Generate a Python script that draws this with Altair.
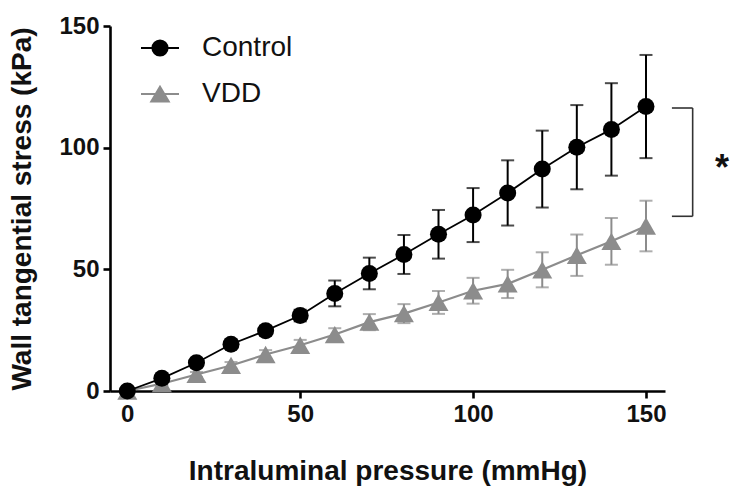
import altair as alt
import pandas as pd

pressure = [0, 10, 20, 30, 40, 50, 60, 70, 80, 90, 100, 110, 120, 130, 140, 150]
control_mean = [0.0, 5.2, 11.6, 19.2, 24.8, 31.0, 40.1, 48.3, 56.1, 64.4, 72.3, 81.4, 91.2, 100.2, 107.5, 116.9]
control_sd = [0.3, 0.8, 1.2, 1.6, 2.0, 2.4, 5.3, 6.5, 8.0, 10.0, 11.1, 13.4, 15.8, 17.3, 19.0, 21.2]
vdd_mean = [0.0, 3.0, 6.8, 10.5, 15.0, 18.8, 23.2, 28.3, 31.8, 36.4, 41.2, 44.0, 49.8, 55.8, 61.5, 67.8]
vdd_sd = [0.3, 0.6, 1.0, 1.4, 1.8, 2.2, 2.6, 3.3, 3.9, 4.7, 5.3, 5.8, 7.2, 8.5, 9.6, 10.4]
groups = ["Control", "VDD"]
group_colors = ["#000000", "#8c8c8c"]

bracket_x = [157.5, 163.5]
bracket_y = [116.3, 71.8]
star_label = "*"

FONT = "Liberation Sans"

rows = []
for g, means, sds in [("Control", control_mean, control_sd), ("VDD", vdd_mean, vdd_sd)]:
    for p, m, s in zip(pressure, means, sds):
        rows.append({"pressure": p, "stress": m, "lo": m - s, "hi": m + s, "group": g})
df = pd.DataFrame(rows)

xscale = alt.Scale(domain=[-5, 155.5], nice=False, zero=False)
yscale = alt.Scale(domain=[0, 150], nice=False)

xaxis = alt.Axis(values=[0, 50, 100, 150], title="Intraluminal pressure (mmHg)",
                 titleY=80, titleBaseline="middle", labelPadding=4)
yaxis = alt.Axis(values=[0, 50, 100, 150], title="Wall tangential stress (kPa)",
                 titleX=-88, titleBaseline="middle", labelPadding=4)

base = alt.Chart(df)


def series_layers(g, color, shape, size, lw):
    d = base.transform_filter(alt.datum.group == g)
    line = d.mark_line(color=color, strokeWidth=lw).encode(
        x=alt.X("pressure:Q", scale=xscale, axis=xaxis),
        y=alt.Y("stress:Q", scale=yscale, axis=yaxis),
    )
    bars = d.mark_rule(color=color, strokeWidth=2).encode(
        x="pressure:Q", y="lo:Q", y2="hi:Q"
    )
    cap_hi = d.mark_tick(color=color, orient="horizontal", size=13, thickness=2).encode(
        x="pressure:Q", y="hi:Q"
    )
    cap_lo = d.mark_tick(color=color, orient="horizontal", size=13, thickness=2).encode(
        x="pressure:Q", y="lo:Q"
    )
    pts = d.mark_point(filled=True, shape=shape, size=size, color=color, opacity=1).encode(
        x="pressure:Q", y="stress:Q"
    )
    return [bars, cap_hi, cap_lo, line, pts]


layers = []
layers += series_layers("VDD", group_colors[1], "triangle-up", 400, 2.2)
layers += series_layers("Control", group_colors[0], "circle", 290, 1.8)

legend_paths = [
    "M-1,0H1M-0.4,0A0.4,0.4,0,1,0,0.4,0A0.4,0.4,0,1,0,-0.4,0Z",
    "M-1,0H1M0,-0.38L0.46,0.4L-0.46,0.4Z",
]
leg = alt.Legend(title=None, orient="none", legendX=30, legendY=2, padding=0,
                 symbolSize=1444, symbolStrokeWidth=2, labelFont=FONT, labelFontSize=28,
                 labelColor="#111", labelOffset=22, rowPadding=12, symbolOpacity=1)
legend_layer = base.transform_filter("false").mark_point(filled=True, opacity=1, strokeWidth=2).encode(
    x="pressure:Q", y="stress:Q",
    fill=alt.Fill("group:N", scale=alt.Scale(domain=groups, range=group_colors), legend=leg),
    stroke=alt.Stroke("group:N", scale=alt.Scale(domain=groups, range=group_colors), legend=leg),
    shape=alt.Shape("group:N", scale=alt.Scale(domain=groups, range=legend_paths), legend=leg),
)
layers.append(legend_layer)

bdf = pd.DataFrame({"x1": [bracket_x[0]], "x2": [bracket_x[1]], "ytop": [bracket_y[0]],
                    "ybot": [bracket_y[1]], "ymid": [(bracket_y[0] + bracket_y[1]) / 2],
                    "xs": [172.0], "label": [star_label]})
bb = alt.Chart(bdf)
layers.append(bb.mark_rule(color="#333", strokeWidth=1.6).encode(x="x2:Q", y="ytop:Q", y2="ybot:Q"))
layers.append(bb.mark_rule(color="#333", strokeWidth=1.6).encode(x="x1:Q", x2="x2:Q", y="ytop:Q"))
layers.append(bb.mark_rule(color="#333", strokeWidth=1.6).encode(x="x1:Q", x2="x2:Q", y="ybot:Q"))
layers.append(bb.mark_text(font=FONT, fontSize=36, fontWeight="bold", color="#111",
                           baseline="middle", align="center", dy=7).encode(
    x="xs:Q", y="ymid:Q", text="label:N"))

chart = alt.layer(*layers).properties(
    width=555, height=365,
    background="white",
    autosize=alt.AutoSizeParams(type="none"),
    padding={"left": 110, "top": 26, "right": 67, "bottom": 103},
).configure_view(stroke=None).configure_axis(
    grid=False, domainColor="#000", domainWidth=2.6, tickColor="#000", tickWidth=2.6,
    tickSize=7, labelFont=FONT, labelFontSize=24, labelFontWeight="bold", labelColor="#111",
    titleFont=FONT, titleFontSize=28, titleFontWeight="bold", titleColor="#111",
)

chart.save("out.html", embed_options={"renderer": "svg", "actions": False})
